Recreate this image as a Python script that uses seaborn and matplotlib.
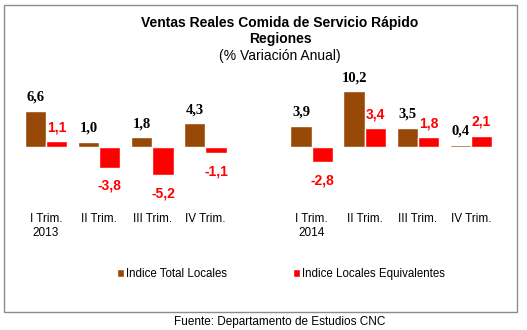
import matplotlib
matplotlib.use("Agg")
import matplotlib.pyplot as plt
import seaborn as sns
import pandas as pd
from matplotlib.patches import Rectangle

# ---- data ----
slot_keys = ["q1_2013", "q2_2013", "q3_2013", "q4_2013", "gap",
             "q1_2014", "q2_2014", "q3_2014", "q4_2014"]
tick_labels = ["I Trim.\n2013", "II Trim.", "III Trim.", "IV Trim.", "",
               "I Trim.\n2014", "II Trim.", "III Trim.", "IV Trim."]
total_locales = [6.6, 1.0, 1.8, 4.3, None, 3.9, 10.2, 3.5, 0.4]
locales_equiv = [1.1, -3.8, -5.2, -1.1, None, -2.8, 3.4, 1.8, 2.1]
series_names = ["Indice Total Locales", "Indice Locales Equivalentes"]
colors = ["#984807", "#FF0000"]

rows = []
for key, a, b in zip(slot_keys, total_locales, locales_equiv):
    if a is not None:
        rows.append({"slot": key, "serie": series_names[0], "valor": a})
    if b is not None:
        rows.append({"slot": key, "serie": series_names[1], "valor": b})
df = pd.DataFrame(rows)

sns.set_style("white")
plt.rcParams["font.family"] = ["Liberation Sans", "DejaVu Sans"]
plt.rcParams["text.color"] = "black"
plt.rcParams["xtick.color"] = "black"
plt.rcParams["xtick.labelcolor"] = "black"

W, H = 527, 330
fig = plt.figure(figsize=(W / 100, H / 100), dpi=100)

def fx(px):
    return px / W

def fy(py):
    return 1 - py / H

ax = fig.add_axes([fx(19.5), fy(200), fx(478), 130 / H])
sns.barplot(data=df, x="slot", y="valor", hue="serie", order=slot_keys,
            hue_order=series_names, palette=colors, width=0.8, saturation=1,
            ax=ax, errorbar=None)
ax.set_xlim(-0.5, 8.5)
ax.set_ylim(-(200 - 147) / 5.47, (147 - 70) / 5.47)
ax.set_xlabel("")
ax.set_ylabel("")
ax.set_yticks([])
ax.set_xticks(range(len(slot_keys)))
ax.set_xticklabels(tick_labels, fontsize=8.5, linespacing=1.25, color="black")
ax.tick_params(axis="x", length=0, pad=9)
sns.despine(ax=ax, left=True, bottom=True)
ax.set_facecolor("none")

def fmt(v):
    return f"{v:.1f}".replace(".", ",")

brown_c, red_c = ax.containers[0], ax.containers[1]
ax.bar_label(brown_c, labels=[fmt(b.get_height()) for b in brown_c],
             padding=5, fontsize=10.5, fontweight="bold",
             family="Liberation Serif", color="black")
ax.bar_label(red_c, labels=[fmt(b.get_height()) if b.get_height() >= 0 else ""
                            for b in red_c],
             padding=5, fontsize=10, fontweight="bold", color="#FF0000")
ax.bar_label(red_c, labels=[fmt(b.get_height()) if b.get_height() < 0 else ""
                            for b in red_c],
             padding=8, fontsize=10, fontweight="bold", color="#FF0000")

sns.move_legend(ax, "center", bbox_to_anchor=(fx(281), fy(274)),
                bbox_transform=fig.transFigure, ncol=2, frameon=False,
                title=None, fontsize=8.3, handlelength=0.6, handleheight=0.6,
                handletextpad=0.15, columnspacing=5.8, labelcolor="black")

# titles
fig.text(fx(280), fy(23), "Ventas Reales Comida de Servicio Rápido",
         ha="center", va="center", fontsize=10, fontweight="bold", color="black")
fig.text(fx(280), fy(39), "Regiones", ha="center", va="center",
         fontsize=10, fontweight="bold", color="black")
fig.text(fx(280), fy(56), "(% Variación Anual)", ha="center", va="center",
         fontsize=10, color="black")

# border
fig.patches.append(Rectangle((fx(3.5), fy(312)), fx(513), (312 - 5) / H,
                             transform=fig.transFigure, fill=False,
                             edgecolor="#8c8c8c", linewidth=1))

fig.text(fx(280), fy(322), "Fuente: Departamento de Estudios CNC",
         ha="center", va="center", fontsize=8.5, color="black")

fig.savefig("out.png", dpi=100)
